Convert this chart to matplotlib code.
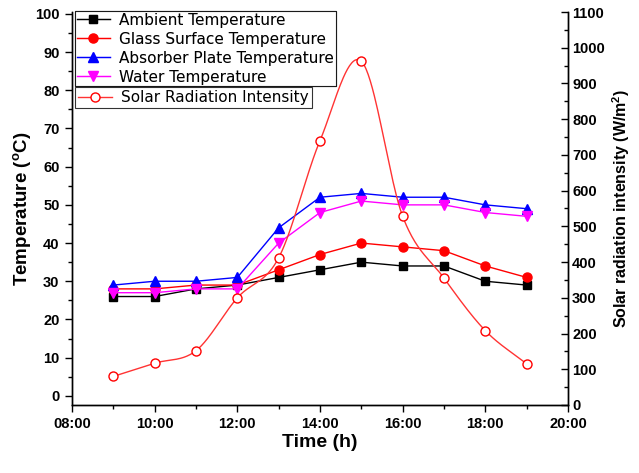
import numpy as np
import matplotlib
matplotlib.use("Agg")
import matplotlib.pyplot as plt
from matplotlib.ticker import MultipleLocator

hours = [9, 10, 11, 12, 13, 14, 15, 16, 17, 18, 19]
ambient = [26, 26, 28, 29, 31, 33, 35, 34, 34, 30, 29]
glass = [28, 28, 29, 29, 33, 37, 40, 39, 38, 34, 31]
absorber = [29, 30, 30, 31, 44, 52, 53, 52, 52, 50, 49]
water = [27, 27, 28, 28, 40, 48, 51, 50, 50, 48, 47]
radiation = [80, 117, 152, 300, 412, 740, 962, 528, 355, 208, 115]

xtick_hours = [8, 10, 12, 14, 16, 18, 20]
xtick_labels = ["08:00", "10:00", "12:00", "14:00", "16:00", "18:00", "20:00"]


def smooth_line(x, y, n=400):
    # Catmull-Rom style hermite curve through the points (line style only)
    x = np.asarray(x, float)
    y = np.asarray(y, float)
    t = np.gradient(y, x)
    xs = np.linspace(x[0], x[-1], n)
    idx = np.clip(np.searchsorted(x, xs) - 1, 0, len(x) - 2)
    h = x[idx + 1] - x[idx]
    s = (xs - x[idx]) / h
    ys = ((2 * s**3 - 3 * s**2 + 1) * y[idx] + (s**3 - 2 * s**2 + s) * h * t[idx]
          + (-2 * s**3 + 3 * s**2) * y[idx + 1] + (s**3 - s**2) * h * t[idx + 1])
    return xs, ys


plt.rcParams['font.family'] = ['Liberation Sans', 'DejaVu Sans']

fig = plt.figure(figsize=(6.39, 4.73), dpi=100)
ax = fig.add_axes([0.1127, 0.1438, 0.7762, 0.8308])
ax2 = ax.twinx()

lw = 1.0
h1, = ax.plot(hours, ambient, color='black', marker='s', ms=6, lw=lw, label='Ambient Temperature')
h2, = ax.plot(hours, glass, color='red', marker='o', ms=6.5, lw=lw, label='Glass Surface Temperature')
h3, = ax.plot(hours, absorber, color='blue', marker='^', ms=7, lw=lw, label='Absorber Plate Temperature')
h4, = ax.plot(hours, water, color='magenta', marker='v', ms=7, lw=lw, label='Water Temperature')

sx, sy = smooth_line(hours, radiation)
ax2.plot(sx, sy, color='#ff3333', lw=lw)
ax2.plot(hours, radiation, ls='none', marker='o', ms=6.5, mfc='white', mec='red', mew=1.0)
h5, = ax2.plot([], [], color='#ff3333', marker='o', ms=6.5, mfc='white', mec='red', lw=lw,
               label='Solar Radiation Intensity')

ax.set_xlim(8, 20)
ax.set_ylim(-2.4, 100.5)
ax2.set_ylim(0, 1100)

ax.set_xticks(xtick_hours)
ax.set_xticklabels(xtick_labels)
ax.xaxis.set_minor_locator(MultipleLocator(1))
ax.yaxis.set_major_locator(MultipleLocator(10))
ax.yaxis.set_minor_locator(MultipleLocator(5))
ax2.yaxis.set_major_locator(MultipleLocator(100))
ax2.yaxis.set_minor_locator(MultipleLocator(50))

for a in (ax, ax2):
    a.spines['top'].set_visible(False)
    a.tick_params(which='major', direction='out', length=5, width=1, labelsize=10.5)
    a.tick_params(which='minor', direction='out', length=3, width=1)
    for lab in a.get_xticklabels() + a.get_yticklabels():
        lab.set_fontweight('bold')
    for s in a.spines.values():
        s.set_linewidth(1.0)
ax.tick_params(axis='y', pad=4)
ax2.tick_params(axis='y', which='both', direction='in', pad=3)

ax.set_xlabel('Time (h)', fontsize=14, fontweight='bold', labelpad=2)
ax.set_ylabel('Temperature ($^\\mathregular{o}$C)', fontsize=13.5, fontweight='bold', labelpad=1)
ax2.set_ylabel('Solar radiation intensity (W/m$^\\mathregular{2}$)', fontsize=11.5,
               fontweight='bold', labelpad=4)

legfont = {'family': 'DejaVu Sans', 'size': 11}
leg1 = ax.legend(handles=[h1, h2, h3, h4], loc='upper left', bbox_to_anchor=(0.117, 0.977),
                 bbox_transform=fig.transFigure, prop=legfont, frameon=True, fancybox=False,
                 edgecolor='black', borderpad=0.12, labelspacing=0.26, handlelength=2.2,
                 handletextpad=0.6, borderaxespad=0)
leg1.get_frame().set_linewidth(0.8)
ax.add_artist(leg1)
leg2 = ax2.legend(handles=[h5], loc='upper left', bbox_to_anchor=(0.117, 0.817),
                  bbox_transform=fig.transFigure, prop=legfont, frameon=True, fancybox=False,
                  edgecolor='black', borderpad=0.22, handlelength=2.2, handletextpad=0.6,
                  borderaxespad=0)
leg2.get_frame().set_linewidth(0.8)

fig.savefig('out.png', dpi=100)
